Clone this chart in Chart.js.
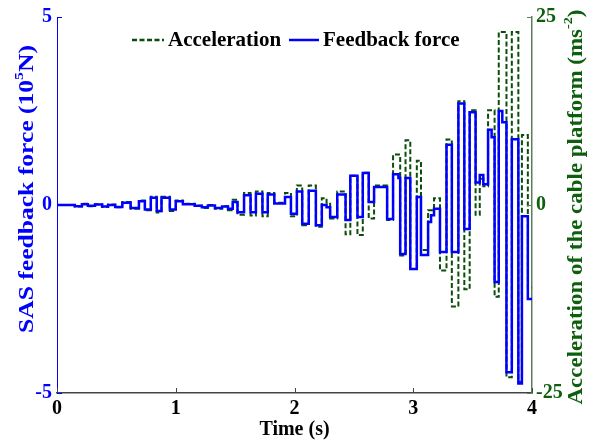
<!DOCTYPE html>
<html>
<head>
<meta charset="utf-8">
<script src="https://cdn.jsdelivr.net/npm/chart.js@4.4.0/dist/chart.umd.min.js"></script>
<style>
  html, body { margin: 0; padding: 0; background: #fff; }
  #chart { display: block; }
</style>
</head>
<body>
<canvas id="chart" width="589" height="443"></canvas>
<script>
// each value holds from its time until the next one (step signals)
const forceTime = [0.00, 0.15, 0.21, 0.26, 0.32, 0.38, 0.43, 0.49, 0.55, 0.62, 0.69, 0.74, 0.79, 0.84, 0.88, 0.95,
  1.00, 1.06, 1.16, 1.22, 1.27, 1.33, 1.39, 1.44, 1.48, 1.52, 1.575, 1.63, 1.675, 1.73, 1.775, 1.83, 1.92, 1.97,
  2.02, 2.065, 2.12, 2.18, 2.23, 2.27, 2.30, 2.36, 2.43, 2.47, 2.53, 2.575, 2.625, 2.67, 2.78, 2.83, 2.875, 2.89,
  2.935, 2.975, 3.03, 3.065, 3.125, 3.15, 3.175, 3.225, 3.28, 3.325, 3.38, 3.43, 3.475, 3.525, 3.56, 3.59, 3.63,
  3.66, 3.685, 3.72, 3.75, 3.785, 3.83, 3.885, 3.915, 3.965, 4.00];
const forceValue = [0, -0.03, 0.02, -0.02, 0.01, -0.04, 0.0, -0.05, 0.06, -0.08, 0.10, -0.12, 0.19, -0.16, 0.19, -0.12,
  0.10, 0.02, -0.02, -0.06, -0.01, -0.08, -0.04, -0.10, 0.08, -0.19, 0.26, -0.19, 0.30, -0.19, 0.28, 0.04, 0.21, -0.23,
  0.36, -0.50, 0.38, -0.54, 0.0, -0.06, -0.32, 0.28, -0.40, 0.78, -0.32, 0.85, 0.08, 0.48, -0.37, 0.82, 0.72, -1.30,
  0.72, -1.70, 0.21, -1.33, -0.45, -0.27, -0.10, -1.25, 1.60, -1.25, 2.70, -0.64, 2.47, 0.60, 0.80, 0.55, 2.00,
  1.80, -2.05, 2.50, 2.20, -4.45, 1.75, -4.75, -0.30, -2.50, -2.50];

const accTime = [0.00, 0.15, 0.21, 0.26, 0.32, 0.38, 0.43, 0.49, 0.55, 0.62, 0.69, 0.74, 0.79, 0.84, 0.88, 0.95,
  1.00, 1.06, 1.16, 1.22, 1.27, 1.33, 1.39, 1.44, 1.48, 1.52, 1.575, 1.63, 1.675, 1.73, 1.775, 1.83, 1.92, 1.97,
  2.02, 2.065, 2.12, 2.18, 2.23, 2.27, 2.30, 2.36, 2.43, 2.47, 2.53, 2.575, 2.625, 2.67, 2.78, 2.83, 2.89,
  2.935, 2.975, 3.03, 3.065, 3.125, 3.175, 3.225, 3.28, 3.325, 3.38, 3.43, 3.475, 3.525, 3.56, 3.59, 3.63,
  3.685, 3.72, 3.785, 3.83, 3.885, 3.915, 3.965, 4.00];
const accValue = [0, -0.2, 0.15, -0.15, 0.1, -0.25, 0.05, -0.3, 0.4, -0.5, 0.6, -0.7, 1.1, -1.0, 1.1, -0.8,
  0.6, 0.15, -0.1, -0.4, 0.0, -0.5, -0.15, -0.7, 0.7, -1.3, 1.6, -1.4, 1.8, -1.5, 1.6, 0.3, 1.6, -1.5,
  2.6, -2.7, 2.6, -2.9, 0.9, 0.3, -1.8, 1.8, -3.9, 3.9, -4.0, 4.3, -1.8, 2.6, -2.0, 6.7, -6.7,
  8.6, -8.5, 5.9, -6.0, -0.7, 0.9, -8.7, 8.7, -13.5, 13.8, -11.2, 12.6, -1.3, 3.5, 2.5, 12.6,
  -12.2, 23.0, -22.9, 23.0, -23.5, 9.3, -11.0, -11.0];

const xTicks = [0, 1, 2, 3, 4];
const forceTicks = [-5, 0, 5];
const accTicks = [-25, 0, 25];

const SERIF = '"Liberation Serif", "Times New Roman", serif';
const BLUE = '#0000ff';
const GREEN = '#0b4d0b';
const GREEN_TEXT = '#0d5e0d';

function toPoints(ts, vs) {
  return ts.map((t, i) => ({ x: t, y: vs[i] }));
}

// text drawn bottom-to-top, stretched to a given length; parts may be superscript
function drawVertical(ctx, parts, cx, cy, size, length, color) {
  ctx.save();
  ctx.translate(cx, cy);
  ctx.rotate(-Math.PI / 2);
  ctx.fillStyle = color;
  ctx.textBaseline = 'middle';
  ctx.textAlign = 'left';
  let total = 0;
  parts.forEach(p => {
    ctx.font = 'bold ' + (p.sup ? size * 0.62 : size) + 'px ' + SERIF;
    p.w = ctx.measureText(p.text).width;
    total += p.w;
  });
  ctx.scale(length / total, 1);
  let x = -total / 2;
  parts.forEach(p => {
    ctx.font = 'bold ' + (p.sup ? size * 0.62 : size) + 'px ' + SERIF;
    ctx.fillText(p.text, x, p.sup ? -size * 0.38 : 0);
    x += p.w;
  });
  ctx.restore();
}

const decorations = {
  id: 'decorations',
  afterDraw(chart) {
    const { ctx, chartArea: a, scales } = chart;
    ctx.save();
    // inward ticks
    ctx.lineWidth = 1;
    ctx.strokeStyle = '#444';
    xTicks.forEach(v => {
      const px = Math.round(scales.x.getPixelForValue(v)) + 0.5;
      ctx.beginPath(); ctx.moveTo(px, a.bottom); ctx.lineTo(px, a.bottom - 5); ctx.stroke();
    });
    ctx.strokeStyle = BLUE;
    forceTicks.forEach(v => {
      const py = Math.round(scales.y.getPixelForValue(v)) + 0.5;
      ctx.beginPath(); ctx.moveTo(a.left, py); ctx.lineTo(a.left + 5, py); ctx.stroke();
    });
    ctx.strokeStyle = '#5b7f5b';
    accTicks.forEach(v => {
      const py = Math.round(scales.y2.getPixelForValue(v)) + 0.5;
      ctx.beginPath(); ctx.moveTo(a.right, py); ctx.lineTo(a.right - 5, py); ctx.stroke();
    });

    // axis titles
    drawVertical(ctx, [
      { text: 'SAS feedback force (10' }, { text: '5', sup: true }, { text: 'N)' }
    ], 28, 189, 21, 288, BLUE);
    drawVertical(ctx, [
      { text: 'Acceleration of the cable platform (ms' }, { text: '-2', sup: true }, { text: ')' }
    ], 577, 207, 21, 395, GREEN_TEXT);

    // legend
    const ly = 40;
    ctx.lineWidth = 2.5;
    ctx.strokeStyle = GREEN;
    ctx.setLineDash([5, 2.5]);
    ctx.beginPath(); ctx.moveTo(132, ly); ctx.lineTo(164, ly); ctx.stroke();
    ctx.setLineDash([]);
    ctx.strokeStyle = BLUE;
    ctx.beginPath(); ctx.moveTo(289, ly); ctx.lineTo(319, ly); ctx.stroke();
    ctx.fillStyle = '#000';
    ctx.font = 'bold 21px ' + SERIF;
    ctx.textBaseline = 'middle';
    ctx.textAlign = 'left';
    ctx.fillText('Acceleration', 168, ly + 1);
    ctx.fillText('Feedback force', 323, ly + 1);
    ctx.restore();
  }
};

new Chart(document.getElementById('chart'), {
  type: 'line',
  data: {
    datasets: [
      {
        label: 'Feedback force',
        data: toPoints(forceTime, forceValue),
        yAxisID: 'y',
        borderColor: BLUE,
        borderWidth: 2.5,
        stepped: true,
        pointRadius: 0
      },
      {
        label: 'Acceleration',
        data: toPoints(accTime, accValue),
        yAxisID: 'y2',
        borderColor: GREEN,
        borderWidth: 2,
        borderDash: [5, 2.5],
        stepped: true,
        pointRadius: 0
      }
    ]
  },
  options: {
    responsive: false,
    animation: false,
    devicePixelRatio: 1,
    layout: { padding: { top: 17, left: 0, right: 0, bottom: 0 } },
    plugins: {
      legend: { display: false },
      tooltip: { enabled: false }
    },
    scales: {
      x: {
        type: 'linear',
        min: xTicks[0],
        max: xTicks[xTicks.length - 1],
        afterFit: s => { s.height = 50; },
        grid: { display: false, drawTicks: false },
        border: { display: true, color: '#444', width: 1.5 },
        ticks: {
          stepSize: 1,
          padding: 4,
          color: '#000',
          font: { family: SERIF, size: 20, weight: 'bold' },
          maxRotation: 0
        },
        title: {
          display: true,
          text: 'Time (s)',
          color: '#000',
          font: { family: SERIF, size: 20, weight: 'bold' },
          padding: { top: 0, bottom: 1 }
        }
      },
      y: {
        position: 'left',
        min: forceTicks[0],
        max: forceTicks[forceTicks.length - 1],
        afterFit: s => { s.width = 57; },
        grid: { display: false, drawTicks: false },
        border: { display: true, color: BLUE, width: 1 },
        ticks: {
          stepSize: 5,
          padding: 5,
          color: BLUE,
          font: { family: SERIF, size: 20, weight: 'bold' }
        }
      },
      y2: {
        position: 'right',
        min: accTicks[0],
        max: accTicks[accTicks.length - 1],
        afterFit: s => { s.width = 57; },
        grid: { display: false, drawTicks: false },
        border: { display: true, color: '#5b7f5b', width: 1.5 },
        ticks: {
          stepSize: 25,
          padding: 4,
          color: GREEN_TEXT,
          font: { family: SERIF, size: 20, weight: 'bold' }
        }
      }
    }
  },
  plugins: [decorations]
});
</script>
</body>
</html>
